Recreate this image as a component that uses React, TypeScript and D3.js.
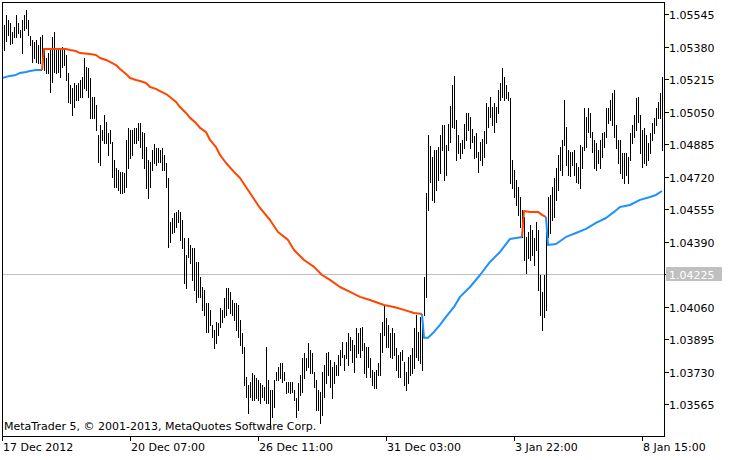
import React from 'react';
import * as d3 from 'd3';

// Bar highs / lows (H-L bars), one per bar, left to right
const highs = [
1.05474,1.05489,1.05540,1.05515,1.05499,1.05454,1.05479,1.05540,1.05499,1.05464,
1.05515,1.05540,1.05565,1.05515,1.05433,1.05413,1.05403,1.05413,1.05388,1.05428,
1.05438,1.05362,1.05322,1.05347,1.05362,1.05428,1.05454,1.05373,1.05373,1.05362,
1.05378,1.05373,1.05337,1.05246,1.05185,1.05170,1.05195,1.05185,1.05195,1.05210,
1.05225,1.05322,1.05276,1.05271,1.05220,1.05124,1.05124,1.05083,1.04931,1.04982,
1.04957,1.05033,1.04997,1.04941,1.04957,1.04896,1.04804,1.04764,1.04754,1.04744,
1.04744,1.04739,1.04906,1.04967,1.04957,1.04957,1.04967,1.04967,1.04992,1.04992,
1.04946,1.04941,1.04870,1.04804,1.04794,1.04855,1.04886,1.04865,1.04865,1.04855,
1.04865,1.04830,1.04789,1.04713,1.04490,1.04510,1.04536,1.04541,1.04551,1.04541,
1.04500,1.04409,1.04323,1.04409,1.04373,1.04358,1.04358,1.04287,1.04287,1.04211,
1.04160,1.04145,1.04079,1.04079,1.04044,1.03968,1.03942,1.03983,1.03978,1.04054,
1.04044,1.04105,1.04155,1.04155,1.04135,1.04094,1.04079,1.04079,1.04069,1.03993,
1.03927,1.03856,1.03704,1.03663,1.03678,1.03724,1.03714,1.03699,1.03689,1.03673,
1.03663,1.03653,1.03856,1.03689,1.03638,1.03638,1.03689,1.03729,1.03755,1.03775,
1.03775,1.03729,1.03678,1.03678,1.03678,1.03678,1.03638,1.03597,1.03673,1.03714,
1.03800,1.03826,1.03800,1.03876,1.03841,1.03826,1.03729,1.03689,1.03638,1.03628,
1.03729,1.03765,1.03826,1.03831,1.03790,1.03755,1.03780,1.03765,1.03815,1.03841,
1.03881,1.03815,1.03881,1.03927,1.03907,1.03892,1.03866,1.03952,1.03927,1.03952,
1.03957,1.03876,1.03856,1.03856,1.03800,1.03740,1.03729,1.03740,1.03775,1.03927,
1.03983,1.04069,1.04003,1.03968,1.03927,1.03952,1.03927,1.03851,1.03815,1.03831,
1.03841,1.03780,1.03729,1.03805,1.03815,1.03851,1.03952,1.04018,1.03932,1.04008,
1.04018,1.04211,1.04637,1.04931,1.04875,1.04820,1.04855,1.04855,1.04870,1.04931,
1.04982,1.04982,1.04881,1.04987,1.05078,1.05185,1.05231,1.05007,1.04931,1.04891,
1.04906,1.04987,1.05043,1.05043,1.05023,1.04962,1.04926,1.04941,1.04845,1.04896,
1.04911,1.04952,1.05094,1.05073,1.05124,1.05073,1.05094,1.05073,1.05160,1.05195,
1.05271,1.05225,1.05185,1.05149,1.05119,1.04804,1.04754,1.04703,1.04668,1.04617,
1.04551,1.04515,1.04414,1.04439,1.04475,1.04449,1.04409,1.04490,1.04449,1.04221,
1.04135,1.04221,1.04515,1.04617,1.04627,1.04668,1.04713,1.04764,1.04830,1.04870,
1.04906,1.05109,1.04972,1.04855,1.04845,1.04845,1.04855,1.04789,1.04769,1.04881,
1.04870,1.05068,1.05023,1.05068,1.05043,1.04946,1.04906,1.04891,1.04855,1.04906,
1.04941,1.04946,1.05068,1.05068,1.05109,1.05144,1.05160,1.04982,1.04906,1.04906,
1.04840,1.04840,1.04840,1.04820,1.04941,1.04982,1.05033,1.05119,1.05124,1.05033,
1.04957,1.04967,1.04931,1.04891,1.04941,1.04992,1.05018,1.05068,1.05099,1.05144,
1.05225
];
const lows = [
1.05388,1.05362,1.05408,1.05438,1.05393,1.05398,1.05428,1.05428,1.05449,1.05428,
1.05347,1.05464,1.05474,1.05438,1.05388,1.05302,1.05322,1.05302,1.05296,1.05296,
1.05271,1.05261,1.05246,1.05246,1.05149,1.05200,1.05251,1.05246,1.05251,1.05225,
1.05276,1.05286,1.05210,1.05099,1.05094,1.05033,1.05073,1.05109,1.05109,1.05124,
1.05124,1.05170,1.05160,1.05124,1.05018,1.05018,1.05018,1.04957,1.04794,1.04779,
1.04906,1.04891,1.04891,1.04830,1.04891,1.04718,1.04668,1.04668,1.04652,1.04637,
1.04637,1.04642,1.04668,1.04764,1.04815,1.04830,1.04891,1.04891,1.04906,1.04870,
1.04815,1.04764,1.04662,1.04612,1.04668,1.04754,1.04789,1.04779,1.04794,1.04794,
1.04754,1.04754,1.04668,1.04363,1.04389,1.04434,1.04439,1.04465,1.04490,1.04399,
1.04358,1.04181,1.04155,1.04312,1.04282,1.04196,1.04145,1.04084,1.04110,1.04110,
1.04044,1.04018,1.03932,1.03932,1.03968,1.03907,1.03851,1.03876,1.03917,1.03957,
1.03983,1.04008,1.04018,1.04054,1.04028,1.04018,1.03993,1.03942,1.03907,1.03866,
1.03826,1.03663,1.03602,1.03521,1.03602,1.03587,1.03587,1.03597,1.03587,1.03572,
1.03602,1.03587,1.03572,1.03572,1.03450,1.03501,1.03552,1.03689,1.03689,1.03699,
1.03678,1.03689,1.03623,1.03628,1.03623,1.03628,1.03587,1.03501,1.03537,1.03613,
1.03628,1.03699,1.03740,1.03755,1.03724,1.03724,1.03653,1.03537,1.03537,1.03471,
1.03511,1.03602,1.03673,1.03714,1.03653,1.03597,1.03673,1.03714,1.03714,1.03765,
1.03805,1.03740,1.03800,1.03765,1.03841,1.03780,1.03729,1.03805,1.03826,1.03805,
1.03841,1.03724,1.03704,1.03755,1.03704,1.03663,1.03648,1.03648,1.03714,1.03714,
1.03831,1.03917,1.03856,1.03856,1.03805,1.03800,1.03815,1.03740,1.03704,1.03704,
1.03790,1.03663,1.03638,1.03673,1.03714,1.03724,1.03750,1.03805,1.03790,1.03775,
1.03740,1.04018,1.04110,1.04551,1.04693,1.04602,1.04591,1.04652,1.04703,1.04739,
1.04855,1.04703,1.04728,1.04855,1.04896,1.04972,1.04967,1.04804,1.04840,1.04815,
1.04840,1.04865,1.04906,1.04957,1.04865,1.04896,1.04815,1.04820,1.04744,1.04804,
1.04779,1.04820,1.04891,1.04972,1.05023,1.04982,1.04946,1.04997,1.05043,1.05109,
1.05124,1.05109,1.05119,1.05109,1.04688,1.04662,1.04617,1.04576,1.04526,1.04465,
1.04414,1.04297,1.04231,1.04307,1.04297,1.04323,1.04272,1.04348,1.04145,1.04018,
1.03942,1.04008,1.04044,1.04414,1.04434,1.04500,1.04515,1.04602,1.04652,1.04754,
1.04728,1.04881,1.04779,1.04728,1.04723,1.04779,1.04728,1.04693,1.04688,1.04662,
1.04764,1.04855,1.04870,1.04946,1.04921,1.04845,1.04764,1.04754,1.04789,1.04764,
1.04820,1.04870,1.04921,1.04992,1.05007,1.04982,1.04921,1.04865,1.04789,1.04739,
1.04713,1.04688,1.04728,1.04688,1.04804,1.04891,1.04921,1.04957,1.04997,1.04840,
1.04769,1.04789,1.04779,1.04804,1.04840,1.04906,1.04941,1.04982,1.05018,1.05018,
1.04855
];

// Moving-average style line: bar index, value, trend (0 = falling/orange, 1 = rising/blue)
const maBars = [
0,4,7,9,12,14,17,20,
21,27,32,34,37,39,44,47,49,52,54,57,59,62,64,67,69,72,74,77,79,82,84,87,89,92,94,97,99,102,104,107,109,112,116,119,124,129,134,138,143,146,151,156,160,164,169,174,179,184,191,196,201,206,210,
211,213,216,219,222,226,229,234,239,244,249,254,260,
261,264,268,270,272,
273,277,282,287,292,297,302,306,309,314,319,324,327,330
];
const maValues = [
1.05220,1.05231,1.05236,1.05246,1.05251,1.05256,1.05261,1.05261,
1.05367,1.05367,1.05367,1.05362,1.05357,1.05347,1.05342,1.05337,1.05322,1.05312,1.05302,1.05286,1.05266,1.05241,1.05220,1.05210,1.05205,1.05195,1.05175,1.05165,1.05154,1.05139,1.05124,1.05099,1.05073,1.05043,1.05018,1.04992,1.04967,1.04946,1.04906,1.04870,1.04830,1.04789,1.04744,1.04713,1.04637,1.04561,1.04500,1.04439,1.04399,1.04348,1.04297,1.04262,1.04221,1.04196,1.04160,1.04135,1.04110,1.04094,1.04069,1.04059,1.04044,1.04028,1.04023,
1.03902,1.03902,1.03932,1.03968,1.04008,1.04059,1.04110,1.04160,1.04221,1.04287,1.04338,1.04404,1.04414,
1.04546,1.04541,1.04541,1.04526,1.04515,
1.04373,1.04378,1.04414,1.04434,1.04455,1.04485,1.04510,1.04541,1.04566,1.04576,1.04602,1.04617,1.04627,1.04647
];
const maTrend = [
1,1,1,1,1,1,1,1,
0,0,0,0,0,0,0,0,0,0,0,0,0,0,0,0,0,0,0,0,0,0,0,0,0,0,0,0,0,0,0,0,0,0,0,0,0,0,0,0,0,0,0,0,0,0,0,0,0,0,0,0,0,0,0,
1,1,1,1,1,1,1,1,1,1,1,1,1,
0,0,0,0,0,
1,1,1,1,1,1,1,1,1,1,1,1,1,1
];

const priceTicks = [1.05545,1.05380,1.05215,1.05050,1.04885,1.04720,1.04555,1.04390,1.04225,1.04060,1.03895,1.03730,1.03565];
const currentPrice = 1.04225;
const timeLabels = ['17 Dec 2012','20 Dec 07:00','26 Dec 11:00','31 Dec 03:00','3 Jan 22:00','8 Jan 15:00'];
const timeLabelBars = [0,64,128,192,256,320];
const copyright = 'MetaTrader 5, \u00A9 2001-2013, MetaQuotes Software Corp.';

const W = 734, H = 460;
const PL = 2, PR = 664, PT = 2, PB = 436;
const FONT = '"DejaVu Sans", Verdana, sans-serif';
const ORANGE = '#FF4500';
const BLUE = '#1E90FF';

export default function App() {
  const x = d3.scaleLinear().domain([0, highs.length - 1]).range([2, 662]);
  const y = d3.scaleLinear().domain([1.03565, 1.05545]).range([404.3, 14]);

  // split MA into colour segments; each new segment starts from the previous segment's end
  const segs: { trend: number; pts: [number, number][] }[] = [];
  maBars.forEach((b, i) => {
    const t = maTrend[i];
    const p: [number, number] = [x(b), y(maValues[i])];
    const last = segs[segs.length - 1];
    if (!last || last.trend !== t) {
      const start: [number, number][] = last ? [last.pts[last.pts.length - 1]] : [];
      segs.push({ trend: t, pts: [...start, p] });
    } else last.pts.push(p);
  });
  const line = d3.line<[number, number]>().x(d => d[0]).y(d => d[1]);

  const cy = Math.round(y(currentPrice)) + 0.5;

  return (
    <svg width={W} height={H} style={{ position: 'absolute', left: 0, top: 0, display: 'block', background: '#fff' }}>
      <defs>
        <clipPath id="plot"><rect x={PL} y={PT} width={PR - PL} height={PB - PT} /></clipPath>
      </defs>
      <rect x={0} y={0} width={W} height={H} fill="#fff" />
      {/* current price line */}
      <line x1={PL} x2={PR} y1={cy} y2={cy} stroke="#C0C0C0" strokeWidth={1} shapeRendering="crispEdges" />
      <g clipPath="url(#plot)" shapeRendering="crispEdges">
        {highs.map((h, i) => {
          const xx = Math.round(x(i)) + 0.5;
          const y1 = Math.round(y(h));
          const y2 = Math.round(y(lows[i])) + 1;
          return <line key={i} x1={xx} x2={xx} y1={y1} y2={y2} stroke="#000" strokeWidth={1} />;
        })}
      </g>
      <g clipPath="url(#plot)">
        {segs.map((s, i) => (
          <path key={i} d={line(s.pts) || ''} fill="none" stroke={s.trend ? BLUE : ORANGE} strokeWidth={2} strokeLinejoin="round" />
        ))}
      </g>
      {/* frame */}
      <rect x={PL + 0.5} y={PT + 0.5} width={PR - PL} height={PB - PT} fill="none" stroke="#000" strokeWidth={1} shapeRendering="crispEdges" />
      {/* price axis */}
      <g fontFamily={FONT} fontSize={11} fill="#000">
        {priceTicks.map(p => {
          const yy = Math.round(y(p)) + 0.5;
          return (
            <g key={p}>
              <line x1={PR} x2={PR + 5} y1={yy} y2={yy} stroke="#000" shapeRendering="crispEdges" />
              {p !== currentPrice && <text x={PR + 5} y={yy + 4}>{p.toFixed(5)}</text>}
            </g>
          );
        })}
        <rect x={PR + 2} y={cy - 7.5} width={56} height={14} fill="#C0C0C0" />
        <text x={PR + 5} y={cy + 4} fill="#fff">{currentPrice.toFixed(5)}</text>
      </g>
      {/* time axis */}
      <g fontFamily={FONT} fontSize={11} fill="#000">
        {timeLabels.map((t, i) => {
          const xx = Math.round(x(timeLabelBars[i])) + 0.5;
          return (
            <g key={t}>
              <line x1={xx} x2={xx} y1={PB} y2={PB + 5} stroke="#000" shapeRendering="crispEdges" />
              <text x={xx + 0.5} y={451}>{t}</text>
            </g>
          );
        })}
      </g>
      <text x={4} y={430} fontFamily={FONT} fontSize={11} fill="#000">{copyright}</text>
    </svg>
  );
}
